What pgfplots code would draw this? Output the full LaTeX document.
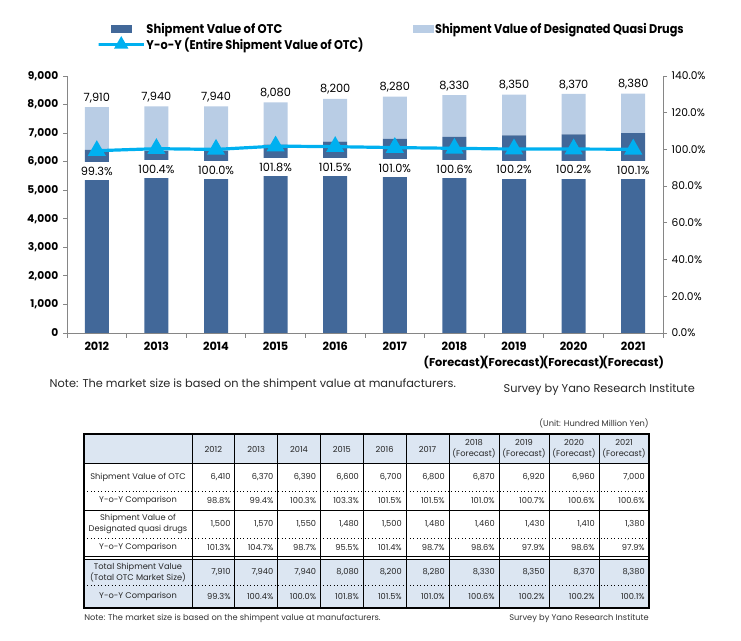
\documentclass[border=0pt]{standalone}
\usepackage{pgfplots}
\pgfplotsset{compat=1.18}
\usepackage{pgfplotstable}
\usepackage{fontspec}
\usepackage{graphicx}
\setmainfont{Poppins}

\definecolor{otc}{RGB}{66,104,153}
\definecolor{quasi}{RGB}{185,205,229}
\definecolor{yoyc}{RGB}{0,176,240}
\definecolor{axgray}{RGB}{134,134,134}
\definecolor{tabfill}{RGB}{220,230,242}

\pgfplotsset{/pgf/number format/assume math mode=true, /pgf/number format/1000 sep={,},
  yoylegend/.style={legend image code/.code={\draw[mark repeat=2, mark phase=2, ##1] plot coordinates {(0pt,0pt) (8pt,0pt) (16pt,0pt)};}},
  barlegend/.style={legend image code/.code={\fill[##1] (0pt,-3pt) rectangle (16pt,3pt);}}}

\pgfplotstableread{
x otc quasi total yoy
0 6410 1500 7910 99.3
1 6370 1570 7940 100.4
2 6390 1550 7940 100.0
3 6600 1480 8080 101.8
4 6700 1500 8200 101.5
5 6800 1480 8280 101.0
6 6870 1460 8330 100.6
7 6920 1430 8350 100.2
8 6960 1410 8370 100.2
9 7000 1380 8380 100.1
}\data

% table column boundaries and centres (image pixels)
\newcommand\colR[1]{\ifcase#1 192\or 234.8\or 277.6\or 320.4\or 363.2\or 406\or 449\or 499\or 549\or 599\or 649\fi}
\newcommand\colC[1]{\ifcase#1 138\or 213.4\or 256.2\or 299\or 341.8\or 384.6\or 427.5\or 474\or 524\or 574\or 624\fi}
\def\tabL{84}\def\tabR{649}
\tikzset{tt/.style={font=\fontsize{6.2}{8}\selectfont, inner sep=0pt, text=black!85}}
\newcommand\tabrow[2]{\foreach \v [count=\i] in {#2} {\node[tt, anchor=east] at ({\colR{\i}-4},#1) {\v};}}

\begin{document}
\begin{tikzpicture}[x=0.75pt,y=0.75pt]
\useasboundingbox (0,0) rectangle (741,641);

\begin{axis}[
  at={(50.25pt,231pt)}, anchor=south west, scale only axis,
  width=447pt, height=192.75pt,
  xmin=-0.5, xmax=9.5, ymin=0, ymax=9000,
  ybar stacked, bar width=18pt,
  axis x line*=bottom, axis y line*=left,
  axis line style={axgray, line width=0.6pt},
  xtick={0,...,9},
  xticklabels={2012,2013,2014,2015,2016,2017,{2018\\(Forecast)},{2019\\(Forecast)},{2020\\(Forecast)},{2021\\(Forecast)}},
  x tick label style={align=center, font=\bfseries\fontsize{8.5}{12}\selectfont},
  major x tick style={draw=none},
  minor xtick={-0.5,0.5,...,9.5},
  minor x tick style={axgray, line width=0.6pt},
  ytick={0,1000,...,9000},
  ytick style={axgray, line width=0.6pt},
  tick align=outside, major tick length=3pt, minor tick length=3.5pt,
  scaled y ticks=false,
  yticklabel style={font=\bfseries\fontsize{8}{9}\selectfont},
  clip=false,
  legend style={at={(axis description cs:0.05,1.21)}, anchor=north west, draw=none, fill=none,
    inner sep=0pt, nodes={inner sep=0.8pt}, font=\bfseries\fontsize{9.5}{11}\selectfont,
    /tikz/every even column/.append style={column sep=36pt}, row sep=0pt},
  legend columns=2, legend cell align=left,
]
\addplot[fill=otc, draw=none, barlegend] table[x=x, y=otc]{\data};
\addlegendentry{\scalebox{0.91}[1]{Shipment Value of OTC}}
\addplot[fill=quasi, draw=none, barlegend] table[x=x, y=quasi]{\data};
\addlegendentry{\scalebox{0.89}[1]{Shipment Value of Designated Quasi Drugs}}
\addlegendimage{yoyc, line width=2.25pt, mark=triangle*, mark size=4pt, yoylegend}
\addlegendentry{\scalebox{0.89}[1]{Y-o-Y (Entire Shipment Value of OTC)}}
\end{axis}

% total labels above the bars
\begin{axis}[
  at={(50.25pt,231pt)}, anchor=south west, scale only axis,
  width=447pt, height=192.75pt,
  xmin=-0.5, xmax=9.5, ymin=0, ymax=9000, hide axis, clip=false,
]
\addplot[draw=none, mark=none, nodes near coords, point meta=explicit,
  every node near coord/.append style={font=\fontsize{8.5}{9}\selectfont, text=black, anchor=south, inner sep=1pt, yshift=2pt}]
  table[x=x, y=total, meta=total]{\data};
\end{axis}

\begin{axis}[
  at={(50.25pt,231pt)}, anchor=south west, scale only axis,
  width=447pt, height=192.75pt,
  xmin=-0.5, xmax=9.5, ymin=0, ymax=140,
  axis x line=none, axis y line*=right,
  axis line style={axgray, line width=0.6pt},
  ytick={0,20,...,140},
  ytick style={axgray, line width=0.6pt},
  tick align=outside, major tick length=3pt,
  yticklabel={\pgfmathprintnumber[fixed,fixed zerofill,precision=1]{\tick}\%},
  yticklabel style={font=\fontsize{8}{9}\selectfont},
  clip=false,
]
\addplot[yoyc, line width=2.4pt, mark=triangle*, mark size=5.5pt, mark options={solid},
  nodes near coords={\pgfmathprintnumber[fixed,fixed zerofill,precision=1]{\pgfplotspointmeta}\%},
  point meta=y,
  every node near coord/.append style={anchor=north, yshift=-7.5pt, fill=white, text=black,
    inner xsep=1.5pt, inner ysep=3.5pt, text height=6.5pt, text depth=0pt,
    font=\fontsize{8.5}{9}\selectfont}]
  table[x=x, y=yoy]{\data};
\end{axis}

\begin{scope}[shift={(0,641)}, yscale=-1]
\node[anchor=west, font=\fontsize{8.5}{9}\selectfont, text=black!85] at (45,385) {Note: The market size is based on the shimpent value at manufacturers.};
\node[anchor=west, font=\fontsize{8.5}{9}\selectfont, text=black!85] at (499,390) {Survey by Yano Research Institute};

\node[tt, anchor=east, text=black!80] at (\tabR,423) {(Unit: Hundred Million Yen)};
\fill[tabfill] (\tabL,434) rectangle (\tabR,463);
\fill[tabfill] (\tabL,559.5) rectangle (\tabR,608);
\foreach \y in {491,538,585} \draw[dotted, line width=0.6pt] (\tabL,\y) -- (\tabR,\y);
\foreach \y in {463,510,556.5,559.5} \draw[line width=0.5pt] (\tabL,\y) -- (\tabR,\y);
\foreach \i in {0,...,10} \draw[line width=0.5pt] ({\colR{\i}},434) -- ({\colR{\i}},608);
\draw[line width=0.8pt] (\tabL,434) rectangle (\tabR,608);

\foreach \t [count=\i] in {2012,2013,2014,2015,2016,2017} \node[tt] at ({\colC{\i}},449) {\t};
\foreach \t [count=\i from 7] in {2018,2019,2020,2021} \node[tt, align=center] at ({\colC{\i}},449) {\t\\(Forecast)};

\node[tt] at (138,477) {Shipment Value of OTC};
\node[tt] at (138,500.5) {Y-o-Y Comparison};
\node[tt, align=center] at (138,524) {Shipment Value of\\Designated quasi drugs};
\node[tt] at (138,547.5) {Y-o-Y Comparison};
\node[tt, align=center] at (138,572.5) {Total Shipment Value\\(Total OTC Market Size)};
\node[tt] at (138,596.5) {Y-o-Y Comparison};

\tabrow{477}{{6,410},{6,370},{6,390},{6,600},{6,700},{6,800},{6,870},{6,920},{6,960},{7,000}}
\tabrow{500.5}{98.8\%,99.4\%,100.3\%,103.3\%,101.5\%,101.5\%,101.0\%,100.7\%,100.6\%,100.6\%}
\tabrow{524}{{1,500},{1,570},{1,550},{1,480},{1,500},{1,480},{1,460},{1,430},{1,410},{1,380}}
\tabrow{547.5}{101.3\%,104.7\%,98.7\%,95.5\%,101.4\%,98.7\%,98.6\%,97.9\%,98.6\%,97.9\%}
\tabrow{572.5}{{7,910},{7,940},{7,940},{8,080},{8,200},{8,280},{8,330},{8,350},{8,370},{8,380}}
\tabrow{596.5}{99.3\%,100.4\%,100.0\%,101.8\%,101.5\%,101.0\%,100.6\%,100.2\%,100.2\%,100.1\%}

\node[tt, anchor=west, text=black!80] at (\tabL,618) {Note: The market size is based on the shimpent value at manufacturers.};
\node[tt, anchor=east, text=black!80] at (\tabR,618) {Survey by Yano Research Institute};
\end{scope}
\end{tikzpicture}
\end{document}
